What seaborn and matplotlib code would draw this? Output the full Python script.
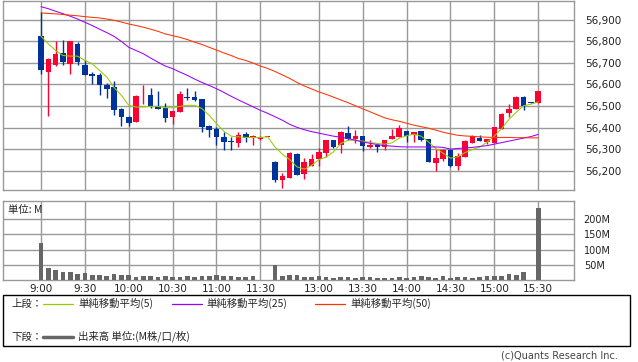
import numpy as np
import pandas as pd
import matplotlib
matplotlib.use("Agg")
import matplotlib.pyplot as plt
import seaborn as sns
from matplotlib.lines import Line2D
from matplotlib.patches import Rectangle

# 5-minute candles, index 0 = 9:00 ... 30 = 11:30, 31 = break, 32 = 12:30 ... 68 = 15:30
opens = [56823, 56657, 56688, 56745, 56693, 56786, 56692, 56649, 56642, 56599,
         56588, 56488, 56449, 56426, 56549, 56552, 56502, 56491, 56449, 56472,
         56541, 56543, 56531, 56406, 56392, 56357, 56337, 56329, 56368, 56354,
         56349, 56355, 56242, 56157, 56167, 56277, 56183, 56223, 56254, 56283,
         56341, 56318, 56375, 56345, 56360, 56310, 56317, 56310, 56347, 56357,
         56383, 56364, 56383, 56345, 56234, 56252, 56298, 56221, 56264, 56329,
         56352, 56334, 56329, 56395, 56467, 56488, 56543, 56517, 56514]
highs = [56937, 56722, 56800, 56808, 56802, 56795, 56711, 56659, 56652, 56606,
         56615, 56490, 56455, 56552, 56595, 56585, 56568, 56515, 56478, 56568,
         56585, 56569, 56533, 56410, 56403, 56378, 56357, 56377, 56378, 56364,
         56360, 56355, 56244, 56190, 56285, 56280, 56257, 56277, 56303, 56343,
         56343, 56383, 56406, 56388, 56362, 56340, 56319, 56343, 56392, 56410,
         56385, 56379, 56385, 56347, 56300, 56300, 56300, 56283, 56341, 56364,
         56364, 56347, 56403, 56467, 56511, 56545, 56545, 56519, 56570]
lows = [56649, 56454, 56686, 56691, 56646, 56688, 56642, 56600, 56552, 56537,
        56460, 56406, 56406, 56424, 56511, 56491, 56484, 56426, 56415, 56470,
        56526, 56524, 56380, 56357, 56318, 56295, 56295, 56310, 56334, 56318,
        56340, 56355, 56149, 56118, 56165, 56178, 56161, 56221, 56223, 56264,
        56304, 56283, 56343, 56326, 56292, 56305, 56287, 56298, 56345, 56355,
        56334, 56334, 56339, 56239, 56198, 56244, 56219, 56203, 56262, 56327,
        56336, 56323, 56327, 56393, 56449, 56486, 56480, 56513, 56512]
closes = [56665, 56720, 56739, 56706, 56799, 56706, 56642, 56640, 56595, 56580,
          56480, 56449, 56421, 56545, 56553, 56495, 56486, 56444, 56475, 56554,
          56535, 56526, 56403, 56388, 56357, 56333, 56334, 56364, 56352, 56360,
          56355, 56355, 56155, 56175, 56283, 56180, 56238, 56254, 56286, 56341,
          56310, 56377, 56345, 56361, 56314, 56321, 56308, 56341, 56361, 56398,
          56360, 56377, 56341, 56241, 56260, 56298, 56221, 56267, 56337, 56361,
          56338, 56345, 56401, 56465, 56488, 56543, 56498, 56515, 56568]
volume_m = [122, 40, 34, 27, 27, 20, 23, 16, 16, 13,
            20, 17, 16, 10, 13, 13, 10, 13, 10, 10,
            13, 10, 13, 13, 16, 13, 13, 10, 10, 13,
            1, 0, 49, 13, 16, 16, 10, 10, 13, 10,
            7, 10, 10, 7, 10, 10, 7, 7, 7, 10,
            7, 10, 13, 10, 7, 13, 7, 10, 10, 7,
            10, 13, 13, 13, 20, 16, 26, 1, 237]
sma5 = [56823, 56788, 56757, 56734, 56731, 56731, 56711, 56696, 56665, 56634,
        56585, 56549, 56503, 56495, 56495, 56498, 56498, 56492, 56492, 56498,
        56503, 56503, 56488, 56457, 56418, 56383, 56360, 56357, 56354, 56354,
        56354, 56357, 56310, 56277, 56252, 56218, 56207, 56224, 56251, 56263,
        56287, 56326, 56341, 56341, 56337, 56331, 56326, 56323, 56329, 56351,
        56362, 56369, 56360, 56333, 56303, 56281, 56258, 56264, 56284, 56298,
        56309, 56332, 56360, 56395, 56438, 56471, 56501, 56508, 56519]
sma25 = [56960, 56951, 56939, 56928, 56916, 56903, 56888, 56873, 56856, 56840,
         56822, 56799, 56772, 56757, 56742, 56722, 56703, 56685, 56673, 56657,
         56642, 56625, 56609, 56595, 56580, 56563, 56545, 56528, 56512, 56496,
         56480, 56466, 56450, 56434, 56415, 56401, 56390, 56381, 56374, 56367,
         56360, 56355, 56349, 56341, 56333, 56327, 56321, 56316, 56314, 56311,
         56310, 56310, 56310, 56310, 56310, 56308, 56300, 56303, 56305, 56308,
         56312, 56316, 56323, 56330, 56337, 56344, 56351, 56358, 56368]
sma50 = [56931, 56929, 56927, 56924, 56921, 56918, 56914, 56911, 56908, 56903,
         56897, 56889, 56880, 56873, 56865, 56856, 56846, 56834, 56826, 56818,
         56808, 56796, 56785, 56772, 56759, 56746, 56734, 56720, 56711, 56699,
         56685, 56674, 56660, 56644, 56628, 56609, 56593, 56579, 56565, 56554,
         56541, 56528, 56515, 56501, 56487, 56473, 56459, 56445, 56436, 56429,
         56420, 56411, 56404, 56397, 56388, 56378, 56371, 56364, 56361, 56359,
         56357, 56355, 56354, 56354, 56354, 56353, 56353, 56352, 56352]

tick_pos = [0, 6, 12, 18, 24, 30, 38, 44, 50, 56, 62, 68]
tick_labels = ["9:00", "9:30", "10:00", "10:30", "11:00", "11:30",
               "13:00", "13:30", "14:00", "14:30", "15:00", "15:30"]
price_ticks = [56200, 56300, 56400, 56500, 56600, 56700, 56800, 56900]
vol_ticks = [50, 100, 150, 200]

df = pd.DataFrame({"idx": np.arange(len(opens)), "open": opens, "high": highs,
                   "low": lows, "close": closes, "vol": volume_m,
                   "sma5": sma5, "sma25": sma25, "sma50": sma50})

sns.set_theme(style="white")
plt.rcParams["font.family"] = ["DejaVu Sans", "Noto Sans CJK JP"]
JP = ["Noto Sans CJK JP", "DejaVu Sans"]

W, H = 638, 362
fig = plt.figure(figsize=(W / 100, H / 100), dpi=100)
ax = fig.add_axes([3.3 / W, 1 - 190.3 / H, 570.7 / W, 189.6 / H])
axv = fig.add_axes([3.3 / W, 1 - 280.3 / H, 570.7 / W, 79.3 / H])

RED, BLUE, GRID = "#ff0033", "#003399", "#999999"


def fx(x):
    return x / W


def fy(y):
    return 1 - y / H


# candles
up = df["close"] >= df["open"]
cols = np.where(up, RED, BLUE)
ax.vlines(df["idx"], df["low"], df["high"], colors=cols, lw=1, zorder=3)
body_lo = np.minimum(df["open"], df["close"])
body_h = np.maximum(np.abs(df["close"] - df["open"]), 4)
ax.bar(df["idx"], body_h, bottom=body_lo, width=0.76, color=cols, zorder=4, linewidth=0)

# moving averages
sns.lineplot(data=df, x="idx", y="sma5", color="#99cc00", lw=0.75, ax=ax, zorder=5)
sns.lineplot(data=df, x="idx", y="sma25", color="#9900ff", lw=0.75, ax=ax, zorder=5)
sns.lineplot(data=df, x="idx", y="sma50", color="#ff3300", lw=0.75, ax=ax, zorder=5)

# volume
axv.bar(df["idx"], df["vol"], width=0.64, color="#666666", linewidth=0, zorder=3)

for a in (ax, axv):
    a.set_xlim(-5.16, 72.9)
    a.set_xticks(tick_pos)
    a.set_xlabel("")
    a.set_ylabel("")
    a.grid(True, color=GRID, lw=1)
    a.set_axisbelow(True)
    a.yaxis.tick_right()
    for s in a.spines.values():
        s.set_color(GRID)
        s.set_linewidth(1)

ax.set_ylim(56109, 56988)
ax.set_yticks(price_ticks)
ax.set_yticklabels([f"{v:,}" for v in price_ticks])
ax.tick_params(axis="x", labelbottom=False, length=0)
ax.tick_params(axis="y", length=0, pad=8, labelsize=7.5, labelcolor="#222222")

axv.set_ylim(0, 258.5)
axv.set_yticks(vol_ticks)
axv.set_yticklabels([f"{v}M" for v in vol_ticks])
axv.set_xticklabels(tick_labels)
axv.tick_params(axis="x", length=0, pad=3, labelsize=7.5, labelcolor="#222222")
axv.tick_params(axis="y", length=0, pad=7, labelsize=7, labelcolor="#222222")
fig.text(fx(8), fy(210), "単位: M", fontsize=7.5, family=JP, va="center")

# legend box
fig.patches.append(Rectangle((fx(3.3), fy(346)), fx(630) - fx(3.3), fy(295.3) - fy(346),
                             transform=fig.transFigure, fill=False, ec="black", lw=1))
fig.text(fx(11.5), fy(303.5), "上段：", fontsize=7.5, family=JP, va="center")
legend_items = [("単純移動平均(5)", "#99cc00", 43.3), ("単純移動平均(25)", "#9900ff", 171.7),
                ("単純移動平均(50)", "#ff3300", 315)]
for label, c, x0 in legend_items:
    fig.lines.append(Line2D([fx(x0), fx(x0 + 30)], [fy(303.5), fy(303.5)],
                            transform=fig.transFigure, color=c, lw=0.9))
    fig.text(fx(x0 + 35), fy(303.5), label, fontsize=7.5, family=JP, va="center")
fig.text(fx(11.5), fy(336.7), "下段：", fontsize=7.5, family=JP, va="center")
fig.lines.append(Line2D([fx(43.3), fx(73.3)], [fy(336.7), fy(336.7)],
                        transform=fig.transFigure, color="#666666", lw=2.5))
fig.text(fx(78.3), fy(336.7), "出来高 単位:(M株/口/枚)", fontsize=7.5, family=JP, va="center")

fig.text(fx(618), fy(356), "(c)Quants Research Inc.", fontsize=7, ha="right",
         va="center", color="#444444")

fig.savefig("out.png", dpi=100, facecolor="white")
